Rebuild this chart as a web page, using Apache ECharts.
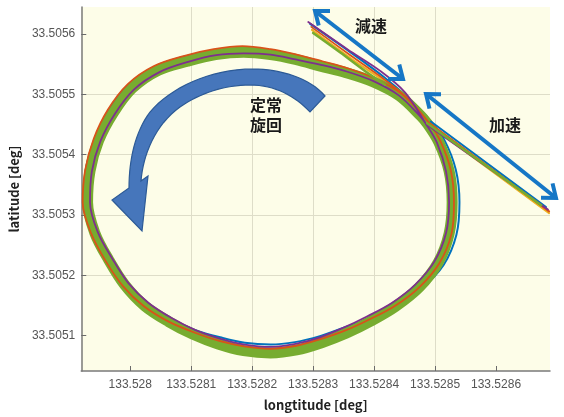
<!DOCTYPE html>
<html>
<head>
<meta charset="utf-8">
<script src="https://cdn.jsdelivr.net/npm/echarts@6/dist/echarts.min.js"></script>
<style>
  html, body { margin: 0; padding: 0; background: #ffffff; }
  #chart { width: 564px; height: 417px; }
</style>
</head>
<body>
<div id="chart"></div>
<script>
// Axis tick values (deg)
const lonTicks = [133.528, 133.5281, 133.5282, 133.5283, 133.5284, 133.5285, 133.5286];
const latTicks = [33.5051, 33.5052, 33.5053, 33.5054, 33.5055, 33.5056];

// Green run: repeated steady-turning laps plus its approach and departure
const greenEntry = [[133.528300,33.505602],[133.528344,33.505570],[133.528385,33.505539],[133.528418,33.505516]];
const greenLap = [
  [133.528487,33.505452],[133.528506,33.505421],[133.528523,33.505373],[133.528528,33.505321],
  [133.528523,33.505269],[133.528505,33.505221],[133.528474,33.505180],[133.528435,33.505148],
  [133.528395,33.505124],[133.528355,33.505104],[133.528314,33.505088],[133.528273,33.505076],
  [133.528230,33.505071],[133.528186,33.505075],[133.528144,33.505086],[133.528103,33.505102],
  [133.528063,33.505123],[133.528024,33.505149],[133.527991,33.505184],[133.527965,33.505225],
  [133.527942,33.505270],[133.527930,33.505321],[133.527934,33.505373],[133.527948,33.505423],
  [133.527972,33.505469],[133.528003,33.505510],[133.528046,33.505540],[133.528094,33.505555],
  [133.528140,33.505566],[133.528186,33.505570],[133.528230,33.505566],[133.528271,33.505558],
  [133.528312,33.505547],[133.528354,33.505536],[133.528398,33.505521],[133.528441,33.505498],
  [133.528477,33.505464],[133.528487,33.505452]
];
const greenExit = [[133.528487,33.505452],[133.528674,33.505316]];

// Blue run
const blueEntry = [[133.528295,33.505617],[133.528357,33.505573],[133.528416,33.505529],[133.528456,33.505494]];
const blueLap = [
  [133.528493,33.505455],[133.528515,33.505425],[133.528534,33.505375],[133.528540,33.505321],
  [133.528535,33.505267],[133.528514,33.505217],[133.528478,33.505178],[133.528435,33.505148],
  [133.528392,33.505128],[133.528350,33.505113],[133.528311,33.505099],[133.528270,33.505089],
  [133.528230,33.505085],[133.528188,33.505088],[133.528148,33.505097],[133.528107,33.505109],
  [133.528066,33.505127],[133.528027,33.505151],[133.527991,33.505184],[133.527963,33.505224],
  [133.527939,33.505270],[133.527925,33.505321],[133.527927,33.505374],[133.527942,33.505425],
  [133.527965,33.505474],[133.527997,33.505516],[133.528040,33.505546],[133.528090,33.505563],
  [133.528138,33.505572],[133.528184,33.505576],[133.528230,33.505571],[133.528272,33.505561],
  [133.528313,33.505551],[133.528356,33.505539],[133.528401,33.505525],[133.528445,33.505501],
  [133.528483,33.505467],[133.528493,33.505455]
];
const blueExit = [[133.528493,33.505455],[133.528682,33.505313]];

// Orange run
const orangeEntry = [[133.528297,33.505612],[133.528361,33.505565],[133.528418,33.505524],[133.528454,33.505494]];
const orangeLap = [
  [133.528490,33.505453],[133.528509,33.505422],[133.528526,33.505373],[133.528531,33.505321],
  [133.528527,33.505269],[133.528507,33.505220],[133.528474,33.505180],[133.528434,33.505149],
  [133.528393,33.505127],[133.528352,33.505108],[133.528312,33.505094],[133.528272,33.505083],
  [133.528230,33.505078],[133.528187,33.505082],[133.528146,33.505091],[133.528105,33.505105],
  [133.528063,33.505123],[133.528023,33.505148],[133.527988,33.505182],[133.527960,33.505223],
  [133.527936,33.505269],[133.527922,33.505321],[133.527926,33.505374],[133.527940,33.505426],
  [133.527963,33.505474],[133.527996,33.505517],[133.528039,33.505547],[133.528089,33.505564],
  [133.528137,33.505575],[133.528184,33.505580],[133.528230,33.505575],[133.528273,33.505566],
  [133.528315,33.505555],[133.528358,33.505543],[133.528402,33.505526],[133.528445,33.505501],
  [133.528480,33.505465],[133.528490,33.505453]
];
const orangeExit = [[133.528490,33.505453],[133.528687,33.505306]];

// Yellow run
const yellowEntry = [[133.528298,33.505607],[133.528364,33.505558],[133.528420,33.505519],[133.528452,33.505491]];
const yellowLap = [
  [133.528487,33.505452],[133.528506,33.505421],[133.528523,33.505373],[133.528528,33.505321],
  [133.528522,33.505269],[133.528502,33.505222],[133.528469,33.505183],[133.528432,33.505152],
  [133.528392,33.505128],[133.528352,33.505108],[133.528313,33.505092],[133.528272,33.505081],
  [133.528230,33.505076],[133.528187,33.505080],[133.528146,33.505090],[133.528104,33.505105],
  [133.528064,33.505124],[133.528024,33.505149],[133.527990,33.505183],[133.527961,33.505223],
  [133.527937,33.505269],[133.527925,33.505321],[133.527929,33.505374],[133.527944,33.505425],
  [133.527968,33.505472],[133.527998,33.505514],[133.528041,33.505545],[133.528091,33.505561],
  [133.528138,33.505572],[133.528184,33.505576],[133.528230,33.505570],[133.528272,33.505562],
  [133.528314,33.505552],[133.528357,33.505541],[133.528400,33.505523],[133.528442,33.505499],
  [133.528477,33.505464],[133.528487,33.505452]
];
const yellowExit = [[133.528487,33.505452],[133.528687,33.505303]];

// Purple run
const purpleEntry = [[133.528292,33.505620],[133.528356,33.505575],[133.528410,33.505539],[133.528451,33.505503]];
const purpleLap = [
  [133.528485,33.505451],[133.528503,33.505420],[133.528518,33.505372],[133.528523,33.505321],
  [133.528518,33.505270],[133.528499,33.505223],[133.528467,33.505184],[133.528429,33.505154],
  [133.528389,33.505132],[133.528350,33.505113],[133.528311,33.505097],[133.528271,33.505086],
  [133.528230,33.505081],[133.528188,33.505085],[133.528147,33.505095],[133.528107,33.505109],
  [133.528068,33.505129],[133.528030,33.505154],[133.527997,33.505187],[133.527971,33.505227],
  [133.527947,33.505271],[133.527934,33.505321],[133.527937,33.505372],[133.527951,33.505422],
  [133.527975,33.505468],[133.528006,33.505508],[133.528048,33.505537],[133.528095,33.505554],
  [133.528141,33.505565],[133.528186,33.505568],[133.528230,33.505566],[133.528271,33.505558],
  [133.528313,33.505549],[133.528355,33.505538],[133.528399,33.505522],[133.528441,33.505498],
  [133.528476,33.505463],[133.528485,33.505451]
];
const purpleExit = [[133.528485,33.505451],[133.528685,33.505309]];

const COLORS = {
  blue: '#0072BD', orange: '#D95319', yellow: '#EDB120', purple: '#7E2F8E', green: '#77AC30'
};
const ARROW_BLUE = '#1677c6';
const LAP_SMOOTH = 0.34;

function pathSeries(name, color, pts, width, z, smooth) {
  return {
    name: name, type: 'line', data: pts, showSymbol: false, smooth: smooth,
    lineStyle: { color: color, width: width, cap: 'round', join: 'round' },
    z: z, silent: true, animation: false
  };
}

// Straight double-headed arrow with open heads
function doubleArrow(x1, y1, x2, y2) {
  const len = Math.hypot(x2 - x1, y2 - y1);
  const ux = (x2 - x1) / len, uy = (y2 - y1) / len;
  const L = 15, a = 38 * Math.PI / 180;
  function head(tx, ty, dx, dy) {
    const bx = -dx, by = -dy;
    const c = Math.cos(a), s = Math.sin(a);
    const p1 = [tx + L * (bx * c - by * s), ty + L * (bx * s + by * c)];
    const p2 = [tx + L * (bx * c + by * s), ty + L * (-bx * s + by * c)];
    return { type: 'polyline', z: 100, shape: { points: [p1, [tx, ty], p2] },
      style: { stroke: ARROW_BLUE, lineWidth: 4, fill: null, lineJoin: 'miter' } };
  }
  return [
    { type: 'line', z: 100, shape: { x1: x1 + ux * 2, y1: y1 + uy * 2, x2: x2 - ux * 2, y2: y2 - uy * 2 },
      style: { stroke: ARROW_BLUE, lineWidth: 4 } },
    head(x1, y1, -ux, -uy),
    head(x2, y2, ux, uy)
  ];
}

// Outline built from straight pieces and cubic curve pieces
function outline(pieces) {
  const pts = [];
  let cur = pieces[0];
  pts.push(cur);
  for (let i = 1; i < pieces.length; i++) {
    const p = pieces[i];
    if (p.length === 2) { pts.push(p); cur = p; continue; }
    const c1 = [p[0], p[1]], c2 = [p[2], p[3]], e = [p[4], p[5]];
    for (let k = 1; k <= 16; k++) {
      const t = k / 16, m = 1 - t;
      pts.push([
        m * m * m * cur[0] + 3 * m * m * t * c1[0] + 3 * m * t * t * c2[0] + t * t * t * e[0],
        m * m * m * cur[1] + 3 * m * m * t * c1[1] + 3 * m * t * t * c2[1] + t * t * t * e[1]
      ]);
    }
    cur = e;
  }
  return pts;
}

function label(text, x, y) {
  return { type: 'text', z: 101, x: x, y: y,
    style: { text: text, fill: '#1a1a1a', font: 'bold 16px "Noto Sans CJK JP", sans-serif',
      align: 'center', verticalAlign: 'middle' } };
}

const turnArrow = outline([
  [325, 96],
  [310, 78, 280, 69, 253, 69],
  [210, 69, 170, 88, 150, 112],
  [135, 132, 129, 160, 129, 188],
  [112, 200], [142, 231], [148, 176], [141, 181],
  [143, 155, 155, 125, 180, 107],
  [200, 93, 225, 85, 250, 85],
  [275, 85, 295, 96, 310, 112]
]);

const chart = echarts.init(document.getElementById('chart'), null, { renderer: 'canvas' });

const option = {
  animation: false,
  backgroundColor: '#ffffff',
  grid: { left: 81, right: 14, top: 7, bottom: 41, show: true, backgroundColor: '#fdfde8', borderWidth: 0 },
  xAxis: {
    type: 'value', min: 133.5279197, max: 133.5286885, splitNumber: 6,
    name: 'longtitude [deg]', nameLocation: 'middle', nameGap: 28,
    nameTextStyle: { fontWeight: 'bold', fontSize: 13, color: '#222', fontFamily: '"Noto Sans CJK JP", sans-serif' },
    axisLine: { onZero: false, lineStyle: { color: '#7a7a7a', width: 1.5 } },
    axisTick: { inside: true, length: 5, customValues: lonTicks, lineStyle: { color: '#6a6a6a' } },
    axisLabel: { customValues: lonTicks, margin: 8,
      color: '#555', fontSize: 12, fontFamily: '"Liberation Sans", Arial, sans-serif',
      formatter: function (v) { return String(+v.toFixed(4)); } },
    splitLine: { show: true, showMinLine: false, showMaxLine: false, lineStyle: { color: '#deddc8', width: 1 } }
  },
  yAxis: {
    type: 'value', min: 33.5050411, max: 33.505645, splitNumber: 6,
    name: 'latitude [deg]', nameLocation: 'middle', nameGap: 52,
    nameTextStyle: { fontWeight: 'bold', fontSize: 13, color: '#222', fontFamily: '"Noto Sans CJK JP", sans-serif' },
    axisLine: { show: true, onZero: false, lineStyle: { color: '#7a7a7a', width: 1.5 } },
    axisTick: { show: true, inside: true, length: 5, customValues: latTicks, lineStyle: { color: '#6a6a6a' } },
    axisLabel: { customValues: latTicks, margin: 6,
      color: '#555', fontSize: 12, fontFamily: '"Liberation Sans", Arial, sans-serif',
      formatter: function (v) { return v.toFixed(4); } },
    splitLine: { show: true, showMinLine: false, showMaxLine: false, lineStyle: { color: '#deddc8', width: 1 } }
  },
  series: [
    // blue and yellow laps run underneath the green band, orange and purple over it
    pathSeries('blue', COLORS.blue, blueEntry.concat(blueLap), 2, 1, LAP_SMOOTH),
    pathSeries('blue exit', COLORS.blue, blueExit, 2, 3, false),
    pathSeries('yellow', COLORS.yellow, yellowEntry.concat(yellowLap), 2, 1, LAP_SMOOTH),
    pathSeries('yellow exit', COLORS.yellow, yellowExit, 2, 3, false),
    pathSeries('green lap', COLORS.green, greenLap, 11, 2, LAP_SMOOTH),
    pathSeries('orange', COLORS.orange, orangeEntry.concat(orangeLap), 1.8, 3, LAP_SMOOTH),
    pathSeries('orange exit', COLORS.orange, orangeExit, 2, 3, false),
    pathSeries('purple', COLORS.purple, purpleEntry.concat(purpleLap), 1.8, 3, LAP_SMOOTH),
    pathSeries('purple exit', COLORS.purple, purpleExit, 2, 3, false),
    pathSeries('green entry', COLORS.green, greenEntry, 2.5, 3, LAP_SMOOTH),
    pathSeries('green exit', COLORS.green, greenExit, 2.5, 3, false)
  ],
  graphic: [].concat(
    [{
      type: 'polygon', z: 99,
      shape: { points: turnArrow },
      style: { fill: '#4676bb', stroke: '#2c5a96', lineWidth: 1.2 }
    }],
    doubleArrow(315, 11, 403, 79),
    doubleArrow(426, 94, 556, 198),
    [label('減速', 371, 26), label('加速', 505, 125), label('定常', 266, 105), label('旋回', 266, 125)]
  )
};

chart.setOption(option);
</script>
</body>
</html>
